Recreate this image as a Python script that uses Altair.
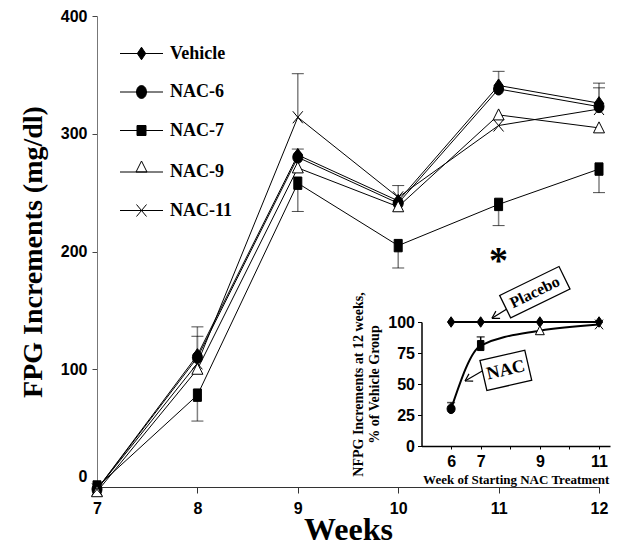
import altair as alt
import pandas as pd

# ---------------- main chart data ----------------
weeks = [7, 8, 9, 10, 11, 12]
series_names = ["Vehicle", "NAC-6", "NAC-7", "NAC-9", "NAC-11"]
vehicle = [-2, 112, 282, 243, 341, 326]
nac_6 = [-2, 110, 280, 241, 338, 323]
nac_7 = [0, 78, 258, 205, 240, 270]
nac_9 = [-4, 100, 271, 238, 316, 305]
nac_11 = [-2, 105, 314, 246, 307, 321]

err_week = [8, 8, 8, 9, 9, 9, 10, 10, 11, 11, 12, 12, 12]
err_from = [112, 110, 78, 314, 282, 258, 246, 205, 341, 240, 326, 323, 270]
err_to = [136, 128, 56, 351, 287, 234, 256, 186, 353, 222, 343, 339, 250]

star_week = [11]
star_value = [198]
star_text = ["*"]

x_ticks = [7, 8, 9, 10, 11, 12]
y_ticks = [0, 100, 200, 300, 400]

# ---------------- inset data ----------------
inset_weeks = [6, 7, 9, 11]
placebo_pct = [100, 100, 100, 100]
nac_pct = [30, 81, 93, 98]
nac_marker = ["NAC-6", "NAC-7", "NAC-9", "NAC-11"]
inset_err_week = [6, 7]
inset_err_from = [30, 81]
inset_err_to = [35, 88]
inset_x_ticks = [6, 7, 8, 9, 10, 11]
inset_y_ticks = [0, 25, 50, 75, 100]

placebo_box_week = [8.83]
placebo_box_pct = [124]
placebo_label = ["Placebo"]
nac_box_week = [7.85]
nac_box_pct = [61]
nac_label = ["NAC"]
placebo_arrow_from = [7.99, 112]
placebo_arrow_to = [7.38, 103]
nac_arrow_from = [7.11, 61.3]
nac_arrow_to = [6.47, 52.4]

SERIF = "Liberation Serif"
SANS = "Liberation Sans"

rows = []
for name, vals in zip(series_names, [vehicle, nac_6, nac_7, nac_9, nac_11]):
    for w, v in zip(weeks, vals):
        rows.append({"week": w, "value": v, "series": name})
main_df = pd.DataFrame(rows)
err_df = pd.DataFrame({"week": err_week, "value": err_from, "value2": err_to})
star_df = pd.DataFrame({"week": star_week, "value": star_value, "t": star_text})

PLOT_SHAPES = [
    "M-0.45,0L0,-0.65L0.45,0L0,0.65Z",
    "M-0.5,0A0.5,0.6 0 1,0 0.5,0A0.5,0.6 0 1,0 -0.5,0Z",
    "M-0.4,-0.62H0.4V0.62H-0.4Z",
    "M0,-0.6L0.55,0.5L-0.55,0.5Z",
    "M-0.5,-0.6L0.5,0.6M-0.5,0.6L0.5,-0.6",
]
LEGEND_SHAPES = [
    "M-2.15,0H2.15M-0.42,0L0,-0.63L0.42,0L0,0.63Z",
    "M-2.15,0H2.15M-0.5,0A0.5,0.65 0 1,0 0.5,0A0.5,0.65 0 1,0 -0.5,0Z",
    "M-2.15,0H2.15M-0.45,-0.5H0.45V0.5H-0.45Z",
    "M-2.15,0H2.15M0,-1.1L0.55,0L-0.55,0Z",
    "M-2.15,0H2.15M-0.5,-0.6L0.5,0.6M-0.5,0.6L0.5,-0.6",
]
FILLS = ["black", "black", "black", "white", "black"]
STROKES = ["black", "black", "black", "black", "black"]

# ---------------- main axes ----------------
main_x_axis = alt.Axis(
    values=x_ticks, title="Weeks", grid=False, labelFont=SANS, labelFontSize=16,
    labelFontWeight="bold", labelColor="black", labelPadding=7, labelFlush=False,
    tickColor="#333", tickSize=6, domainColor="#333", titleFont=SERIF,
    titleFontSize=32, titleFontWeight="bold", titleColor="black", titlePadding=-2,
)
main_y_axis = alt.Axis(
    values=y_ticks, title="FPG Increments (mg/dl)", grid=False, labelFont=SANS,
    labelFontSize=16, labelFontWeight="bold", labelColor="black", labelPadding=5,
    labelOffset={"condition": {"test": "datum.value === 0", "value": -11}, "value": 0},
    tickColor="#444", tickSize=5, domainColor="#777", titleFont=SERIF,
    titleFontSize=28, titleFontWeight="bold", titleColor="black", titlePadding=13,
)
mx_scale = alt.Scale(domain=[7, 12], nice=False)
my_scale = alt.Scale(domain=[0, 400], nice=False)


def mx(field="week"):
    return alt.X(f"{field}:Q", scale=mx_scale, axis=main_x_axis)


def my(field="value"):
    return alt.Y(f"{field}:Q", scale=my_scale, axis=main_y_axis)


lines = alt.Chart(main_df).mark_line(color="black", strokeWidth=1).encode(
    x=mx(), y=my(), detail="series:N"
)
err_rules = alt.Chart(err_df).mark_rule(color="#808080", strokeWidth=1.5).encode(
    x=mx(), y=my(), y2="value2:Q"
)
err_caps = alt.Chart(err_df).mark_tick(
    orient="horizontal", size=12, thickness=1, color="black"
).encode(x=mx(), y=my("value2"))
points = alt.Chart(main_df).mark_point(
    filled=True, stroke="black", strokeWidth=1, size=400, opacity=1
).encode(
    x=mx(), y=my(),
    shape=alt.Shape("series:N", scale=alt.Scale(domain=series_names, range=PLOT_SHAPES), legend=None),
    fill=alt.Fill("series:N", scale=alt.Scale(domain=series_names, range=FILLS), legend=None),
)
star = alt.Chart(star_df).mark_text(
    font=SERIF, fontSize=38, fontWeight="bold", color="black", baseline="middle", dy=8
).encode(x=mx(), y=my(), text="t:N")

main_layer = alt.layer(lines, err_rules, err_caps, points, star)

# ---------------- inset ----------------
ix_scale = alt.Scale(domain=[5, 11.37], range=[324.5, 513], nice=False)
iy_scale = alt.Scale(domain=[0, 100], range=[430, 306], nice=False)
inset_x_axis = alt.Axis(
    orient="bottom", offset=-41, values=inset_x_ticks,
    labelExpr="(datum.value == 8 || datum.value == 10) ? '' : datum.label",
    title="Week of Starting NAC Treatment", grid=False, labelFont=SANS, labelFontSize=16,
    labelFontWeight="bold", labelColor="black", labelPadding=4, tickSize=3,
    tickColor="black", domainColor="black", domainWidth=1.5, titleFont=SERIF,
    titleFontSize=13, titleFontWeight="bold", titleColor="black", titlePadding=4,
)
inset_y_axis = alt.Axis(
    orient="left", offset=-324.5, values=inset_y_ticks,
    title=["NFPG Increments at 12 weeks,", "% of Vehicle Group"], grid=False,
    labelFont=SANS, labelFontSize=16, labelFontWeight="bold", labelColor="black",
    labelPadding=3, tickSize=4, tickColor="black", domainColor="black", domainWidth=1.5,
    titleFont=SERIF, titleFontSize=14, titleFontWeight="bold", titleColor="black",
    titlePadding=6, titleLineHeight=16,
)


def ix(field="week"):
    return alt.X(f"{field}:Q", scale=ix_scale, axis=inset_x_axis)


def iy(field="pct"):
    return alt.Y(f"{field}:Q", scale=iy_scale, axis=inset_y_axis)


placebo_df = pd.DataFrame({"week": inset_weeks, "pct": placebo_pct, "series": ["Vehicle"] * 4})
nac_df = pd.DataFrame({"week": inset_weeks, "pct": nac_pct, "series": nac_marker})
ierr_df = pd.DataFrame({"week": inset_err_week, "pct": inset_err_from, "pct2": inset_err_to})

i_placebo_line = alt.Chart(placebo_df).mark_line(color="black", strokeWidth=2).encode(x=ix(), y=iy())
i_nac_line = alt.Chart(nac_df).mark_line(color="black", strokeWidth=2, interpolate="monotone").encode(
    x=ix(), y=iy()
)
i_err = alt.Chart(ierr_df).mark_rule(color="black", strokeWidth=1.5).encode(x=ix(), y=iy(), y2="pct2:Q")
i_caps = alt.Chart(ierr_df).mark_tick(orient="horizontal", size=8, thickness=1.5, color="black").encode(
    x=ix(), y=iy("pct2")
)
ishape = alt.Scale(domain=series_names, range=PLOT_SHAPES)
ifill = alt.Scale(domain=series_names, range=FILLS)
i_points = alt.Chart(pd.concat([placebo_df, nac_df])).mark_point(
    filled=True, stroke="black", strokeWidth=1, size=260, opacity=1
).encode(
    x=ix(), y=iy(),
    shape=alt.Shape("series:N", scale=ishape, legend=None),
    fill=alt.Fill("series:N", scale=ifill, legend=None),
)

pbox_df = pd.DataFrame({"week": placebo_box_week, "pct": placebo_box_pct, "t": placebo_label})
nbox_df = pd.DataFrame({"week": nac_box_week, "pct": nac_box_pct, "t": nac_label})
p_box = alt.Chart(pbox_df).mark_point(
    shape="M-1,-0.38H1V0.38H-1Z", size=4356, angle=334, filled=True, fill="white",
    stroke="black", strokeWidth=1.3, opacity=1
).encode(x=ix(), y=iy())
p_text = alt.Chart(pbox_df).mark_text(
    font=SERIF, fontSize=16, fontWeight="bold", angle=334, color="black"
).encode(x=ix(), y=iy(), text="t:N")
n_box = alt.Chart(nbox_df).mark_point(
    shape="M-1,-0.67H1V0.67H-1Z", size=2116, angle=347, filled=True, fill="white",
    stroke="black", strokeWidth=1.3, opacity=1
).encode(x=ix(), y=iy())
n_text = alt.Chart(nbox_df).mark_text(
    font=SERIF, fontSize=18, fontWeight="bold", angle=347, color="black"
).encode(x=ix(), y=iy(), text="t:N")

arrow_df = pd.DataFrame({
    "week": [placebo_arrow_from[0], nac_arrow_from[0]],
    "pct": [placebo_arrow_from[1], nac_arrow_from[1]],
    "week2": [placebo_arrow_to[0], nac_arrow_to[0]],
    "pct2": [placebo_arrow_to[1], nac_arrow_to[1]],
})
arrow_lines = alt.Chart(arrow_df).mark_rule(color="black", strokeWidth=1.2).encode(
    x=ix(), y=iy(), x2="week2:Q", y2="pct2:Q"
)
arrow_heads = alt.Chart(arrow_df).mark_point(
    shape="M0,0L1,-0.6M0,0L1,0.6", size=196, angle=330, filled=False,
    stroke="black", strokeWidth=1.2, opacity=1
).encode(x=ix("week2"), y=iy("pct2"))

inset_layer = alt.layer(
    i_placebo_line, i_nac_line, i_err, i_caps, i_points, arrow_lines, arrow_heads,
    p_box, p_text, n_box, n_text,
)

# ---------------- legend ----------------
leg = alt.Legend(
    title=None, orient="none", legendX=34, legendY=27, padding=0,
    labelFont=SERIF, labelFontSize=18, labelFontWeight="bold", labelColor="black",
    labelOffset=18, rowPadding=18.5, symbolSize=400, symbolStrokeColor="black",
    symbolStrokeWidth=1, symbolOpacity=1,
)
legend_df = pd.DataFrame({"series": series_names})
legend_layer = alt.Chart(legend_df).mark_point(
    filled=False, strokeWidth=1, opacity=0
).encode(
    x=alt.value(0), y=alt.value(0),
    shape=alt.Shape("series:N", scale=alt.Scale(domain=series_names, range=LEGEND_SHAPES), legend=leg),
    fill=alt.Fill("series:N", scale=alt.Scale(domain=series_names, range=FILLS), legend=leg),
    stroke=alt.Stroke("series:N", scale=alt.Scale(domain=series_names, range=STROKES), legend=leg),
)

chart = alt.layer(main_layer, inset_layer, legend_layer).resolve_scale(
    x="independent", y="independent", shape="independent", fill="independent",
    stroke="independent",
).properties(
    width=502, height=471,
    autosize=alt.AutoSizeParams(type="none"),
    padding={"left": 89, "top": 8, "right": 17, "bottom": 59},
    background="white",
).configure_view(stroke=None)

chart.save("out.html", embed_options={"renderer": "svg", "actions": False})
